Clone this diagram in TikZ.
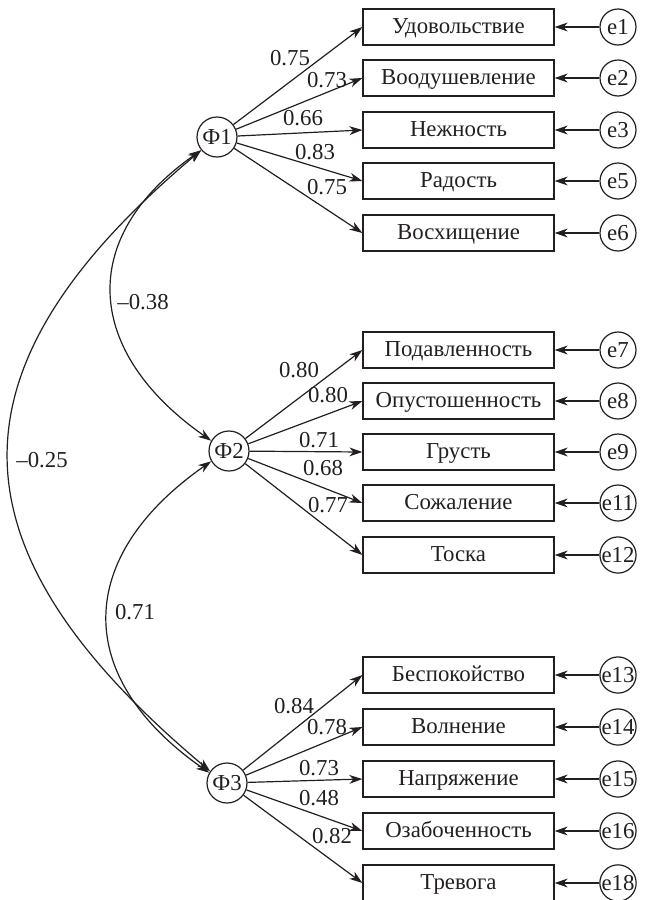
\documentclass[tikz,border=0pt]{standalone}
\usepackage{fontspec}
\setmainfont{Liberation Serif}
\usetikzlibrary{arrows.meta}
\definecolor{ink}{HTML}{231F20}
\begin{document}
\begin{tikzpicture}[x=0.5pt,y=-0.5pt,
    font=\fontsize{11.4}{13}\selectfont,
    every node/.style={text=ink},
    item/.style={draw=ink,line width=0.6pt,minimum width=95.5pt,minimum height=18pt,inner sep=0pt,
      text height=7.4pt,text depth=1.2pt},
    err/.style={draw=ink,line width=0.6pt,circle,minimum size=18pt,inner sep=0pt},
    factor/.style={draw=ink,line width=0.6pt,circle,minimum size=20pt,inner sep=0pt},
    val/.style={inner sep=0pt},
    >={Stealth[length=6.5pt,width=4.4pt,inset=2pt]}]
      \useasboundingbox (0,0) rectangle (648,900);
      % factors
      \draw
        (217,137) node[factor] (f1){Ф1}
        (229,451) node[factor] (f2){Ф2}
        (227,783) node[factor] (f3){Ф3};
      % observed items
      \draw
        (458.5,27) node[item] (v1){Удовольствие}
        (458.5,78) node[item] (v2){Воодушевление}
        (458.5,130) node[item] (v3){Нежность}
        (458.5,181) node[item] (v5){Радость}
        (458.5,233) node[item] (v6){Восхищение}
        (458.5,350) node[item] (v7){Подавленность}
        (458.5,401) node[item] (v8){Опустошенность}
        (458.5,452) node[item] (v9){Грусть}
        (458.5,503) node[item] (v11){Сожаление}
        (458.5,555) node[item] (v12){Тоска}
        (458.5,675) node[item] (v13){Беспокойство}
        (458.5,727) node[item] (v14){Волнение}
        (458.5,779) node[item] (v15){Напряжение}
        (458.5,831) node[item] (v16){Озабоченность}
        (458.5,883) node[item] (v18){Тревога};
      % errors
      \draw
        (618,27) node[err] (e1){e1}
        (618,78) node[err] (e2){e2}
        (618,130) node[err] (e3){e3}
        (618,181) node[err] (e5){e5}
        (618,233) node[err] (e6){e6}
        (618,350) node[err] (e7){e7}
        (618,401) node[err] (e8){e8}
        (618,452) node[err] (e9){e9}
        (618,503) node[err] (e11){e11}
        (618,555) node[err] (e12){e12}
        (618,675) node[err] (e13){e13}
        (618,727) node[err] (e14){e14}
        (618,779) node[err] (e15){e15}
        (618,831) node[err] (e16){e16}
        (618,883) node[err] (e18){e18};
      % loadings
      \draw
        (290,58) node[val] (l1){0.75}
        (327,80) node[val] (l2){0.73}
        (303,118) node[val] (l3){0.66}
        (315,152) node[val] (l5){0.83}
        (327,187) node[val] (l6){0.75}
        (299,370) node[val] (l7){0.80}
        (328,395) node[val] (l8){0.80}
        (319,440) node[val] (l9){0.71}
        (323,468) node[val] (l11){0.68}
        (328,505) node[val] (l12){0.77}
        (294,706) node[val] (l13){0.84}
        (327,727) node[val] (l14){0.78}
        (319,768) node[val] (l15){0.73}
        (319,798) node[val] (l16){0.48}
        (332,836) node[val] (l18){0.82}
        (143,302) node[val] (c12){--0.38}
        (42,460) node[val] (c13){--0.25}
        (135,612) node[val] (c23){0.71};
      \begin{scope}[->,draw=ink,line width=0.6pt]
        \draw (f1) to (v1.west);
        \draw (f1) to (v2.west);
        \draw (f1) to (v3.west);
        \draw (f1) to (v5.west);
        \draw (f1) to (v6.west);
        \draw (f2) to (v7.west);
        \draw (f2) to (v8.west);
        \draw (f2) to (v9.west);
        \draw (f2) to (v11.west);
        \draw (f2) to (v12.west);
        \draw (f3) to (v13.west);
        \draw (f3) to (v14.west);
        \draw (f3) to (v15.west);
        \draw (f3) to (v16.west);
        \draw (f3) to (v18.west);
        \draw (e1) to (v1);
        \draw (e2) to (v2);
        \draw (e3) to (v3);
        \draw (e5) to (v5);
        \draw (e6) to (v6);
        \draw (e7) to (v7);
        \draw (e8) to (v8);
        \draw (e9) to (v9);
        \draw (e11) to (v11);
        \draw (e12) to (v12);
        \draw (e13) to (v13);
        \draw (e14) to (v14);
        \draw (e15) to (v15);
        \draw (e16) to (v16);
        \draw (e18) to (v18);
      \end{scope}
      \begin{scope}[<->,draw=ink,line width=0.6pt]
        \draw (f1.220) to[out=215,in=145,looseness=1.35] (f2.150);
        \draw (f2.210) to[out=215,in=145,looseness=1.37] (f3.150);
        \draw (f1.220) to[out=220,in=140,looseness=1.41] (f3.145);
      \end{scope}
    \end{tikzpicture}
\end{document}
